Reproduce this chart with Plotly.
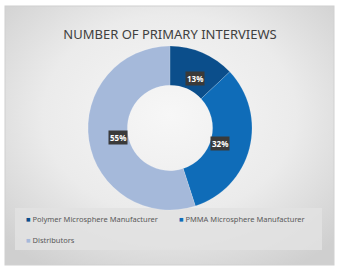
import math, base64
import plotly.graph_objects as go

categories = ["Polymer Microsphere Manufacturer", "PMMA Microsphere Manufacturer", "Distributors"]
shares = [13, 32, 55]
colors = ["#0b4e8b", "#0f6cb8", "#a5b9da"]
title_text = "NUMBER OF PRIMARY INTERVIEWS"

W, H = 340, 273
cx, cy, R, hole = 170, 128, 82, 0.52

svg = f"""<svg xmlns='http://www.w3.org/2000/svg' width='{W}' height='{H}'>
<defs><radialGradient id='g' cx='50%' cy='42%' r='70%'>
<stop offset='0%' stop-color='#f7f7f7'/><stop offset='55%' stop-color='#ebebeb'/><stop offset='100%' stop-color='#cfcfcf'/>
</radialGradient></defs>
<rect x='0' y='0' width='{W}' height='{H}' fill='white'/>
<rect x='5' y='6' width='329' height='259' fill='url(#g)' stroke='#d0d0d0' stroke-width='1'/>
<rect x='15' y='208' width='307' height='42' fill='#e2e2e2' fill-opacity='0.85'/>
</svg>"""
src = "data:image/svg+xml;base64," + base64.b64encode(svg.encode()).decode()

fig = go.Figure(go.Pie(
    labels=categories, values=shares, hole=hole, sort=False, direction="clockwise",
    rotation=0, marker=dict(colors=colors, line=dict(color="rgba(255,255,255,0.3)", width=0.5)),
    textinfo="none", hoverinfo="label+percent", showlegend=False,
    domain=dict(x=[(cx - R) / W, (cx + R) / W], y=[1 - (cy + R) / H, 1 - (cy - R) / H]),
))

total = sum(shares)
cum = 0
rmid = R * (1 + hole) / 2
for v in shares:
    ang = math.radians((cum + v / 2) / total * 360)
    cum += v
    px = cx + rmid * math.sin(ang)
    py = cy - rmid * math.cos(ang)
    fig.add_annotation(x=px / W, y=1 - py / H, xref="paper", yref="paper",
                       text=f"<b>{round(v / total * 100)}%</b>", showarrow=False,
                       font=dict(family="Noto Sans", size=8, color="white"),
                       bgcolor="#3a3a3a", borderpad=1)

# legend built as annotations (Excel-style small square markers)
leg_pos = [(24, 219), (177, 219), (24, 240)]
for name, col, (lx, ly) in zip(categories, colors, leg_pos):
    fig.add_annotation(x=lx / W, y=1 - ly / H, xref="paper", yref="paper",
                       xanchor="left", yanchor="middle", showarrow=False,
                       text=f"<span style='color:{col}'>■</span> {name}",
                       font=dict(family="Noto Sans", size=7.5, color="#595959"))

fig.add_layout_image(dict(source=src, xref="paper", yref="paper", x=0, y=1, sizex=1, sizey=1,
                          xanchor="left", yanchor="top", sizing="stretch", layer="below"))

fig.update_layout(
    width=W, height=H, margin=dict(l=0, r=0, t=0, b=0),
    paper_bgcolor="white", plot_bgcolor="rgba(0,0,0,0)",
    title=dict(text=title_text, x=0.5, xanchor="center", y=1 - 34 / H, yanchor="middle",
               font=dict(family="Noto Sans", size=13, color="#404040")),
    showlegend=False,
)

fig.write_html("out.html")
